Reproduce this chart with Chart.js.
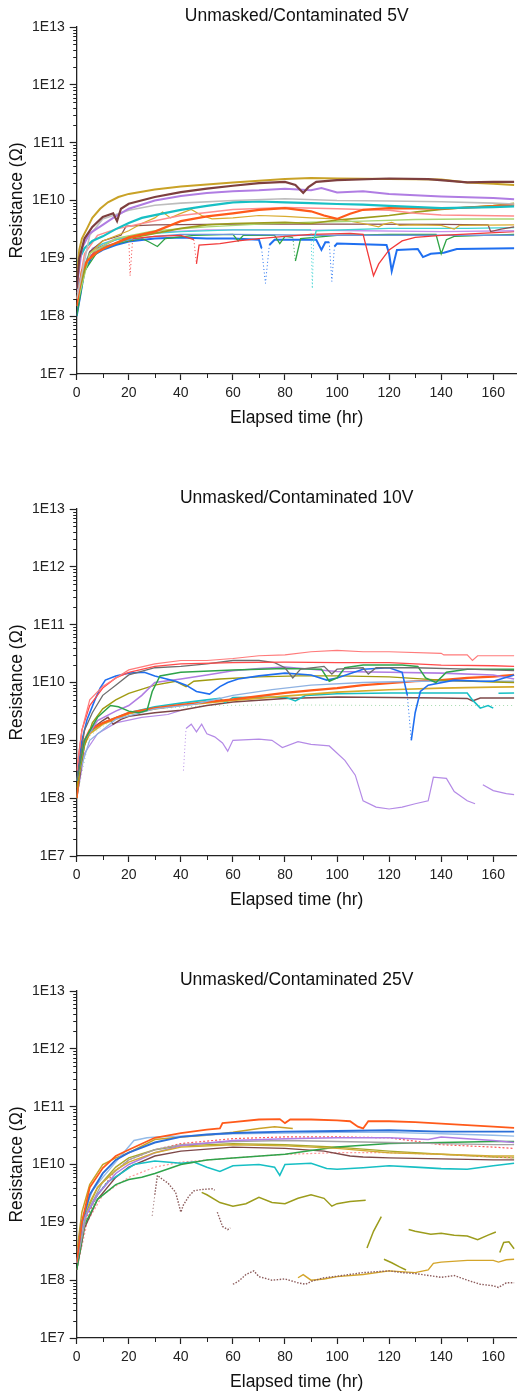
<!DOCTYPE html>
<html>
<head>
<meta charset="utf-8">
<script src="https://cdn.jsdelivr.net/npm/chart.js@4"></script>
<style>
html,body{margin:0;padding:0;background:#fff;}
body{width:518px;height:1395px;position:relative;overflow:hidden;}
.box{position:absolute;left:0;width:518px;height:432px;}
canvas{display:block;}
</style>
</head>
<body>
<div class="box" style="top:-1px"><canvas id="c1" width="518" height="432"></canvas></div>
<div class="box" style="top:481px"><canvas id="c2" width="518" height="432"></canvas></div>
<div class="box" style="top:963px"><canvas id="c3" width="518" height="432"></canvas></div>
<script>
// ---------- labels / ticks ----------
const titles = ['Unmasked/Contaminated 5V', 'Unmasked/Contaminated 10V', 'Unmasked/Contaminated 25V'];
const xLabel = 'Elapsed time (hr)';
const yLabel = 'Resistance (\u03A9)';
const xTicks = [0, 20, 40, 60, 80, 100, 120, 140, 160];
const xMinor = [10, 30, 50, 70, 90, 110, 130, 150];
const yDecades = [7, 8, 9, 10, 11, 12, 13];

// ---------- 5V series : [hours, ohms] ----------
const v5_gold = [[0,5e8],[1,1.4e9],[2,2.2e9],[4,3.3e9],[6,5e9],[9,7.2e9],[12,9.3e9],[16,1.15e10],[20,1.3e10],[30,1.55e10],[40,1.75e10],[50,1.9e10],[60,2.05e10],[70,2.2e10],[80,2.35e10],[90,2.45e10],[100,2.4e10],[120,2.35e10],[140,2.3e10],[150,2.05e10],[160,1.95e10],[168,1.85e10]];
const v5_brown = [[0,3e8],[1,1e9],[3,2.2e9],[6,3.5e9],[10,5.2e9],[14,6e9],[15.5,4.4e9],[17,7.2e9],[20,8.8e9],[30,1.15e10],[40,1.4e10],[50,1.6e10],[60,1.8e10],[70,2e10],[80,2.1e10],[84,1.85e10],[87,1.35e10],[89,1.7e10],[92,2.1e10],[100,2.25e10],[120,2.4e10],[135,2.35e10],[150,2.05e10],[160,2.1e10],[168,2.1e10]];
const v5_purple = [[0,3e8],[2,1.5e9],[5,2.7e9],[10,3.8e9],[14,5e9],[20,7.2e9],[30,1e10],[40,1.2e10],[50,1.35e10],[60,1.45e10],[70,1.5e10],[80,1.6e10],[90,1.5e10],[94,1.65e10],[100,1.38e10],[110,1.45e10],[120,1.3e10],[140,1.17e10],[160,1.1e10],[168,1.05e10]];
const v5_gray = [[0,2e8],[5,2.5e9],[10,4.8e9],[20,6.8e9],[30,8.3e9],[40,9e9],[60,1e10],[80,1.07e10],[100,1e10],[120,9.8e9],[140,9.5e9],[160,9e9],[168,8.7e9]];
const v5_cyan = [[0,8e8],[3,1.5e9],[6,2e9],[10,2.4e9],[15,3.2e9],[20,4.1e9],[25,5e9],[30,5.6e9],[40,6.9e9],[50,8.1e9],[60,9.3e9],[70,9.6e9],[80,9.3e9],[90,9e9],[100,8.7e9],[110,8.5e9],[120,8.1e9],[140,7.4e9],[160,7.7e9],[168,7.9e9]];
const v5_orange = [[0,1.5e8],[2,6e8],[4,9e8],[8,1.3e9],[12,1.6e9],[20,2.3e9],[30,2.9e9],[40,4.4e9],[50,5.3e9],[60,6e9],[70,6.9e9],[80,7.4e9],[90,6.5e9],[95,5.5e9],[100,4.8e9],[105,5.9e9],[110,6.9e9],[120,7.4e9],[140,7.2e9],[160,7.9e9],[168,8.5e9]];
const v5_salmon = [[0,2e8],[3,1.2e9],[8,2.5e9],[15,3.2e9],[25,4e9],[40,5.5e9],[60,7e9],[80,7.6e9],[100,7.2e9],[120,6.8e9],[130,6e9],[140,5.6e9],[168,5.4e9]];
const v5_olive = [[0,2e8],[4,9e8],[10,1.5e9],[20,2.2e9],[30,2.7e9],[40,3.3e9],[50,3.8e9],[60,4e9],[80,4.2e9],[90,4e9],[100,4.6e9],[110,5e9],[120,5.5e9],[130,6.3e9],[140,7e9],[150,7.6e9],[160,8.2e9],[168,8.9e9]];
const v5_lgreen = [[0,1.5e8],[5,1.2e9],[15,2.2e9],[30,3e9],[50,3.5e9],[70,3.9e9],[90,4.2e9],[110,4.4e9],[130,4.7e9],[150,4.8e9],[168,4.8e9]];
const v5_goldThin = [[0,2e8],[5,1.2e9],[10,2e9],[20,3e9],[25,4e9],[30,5e9],[33,6.3e9],[36,5e9],[40,6e9],[44,7e9],[48,5.5e9],[52,4.8e9],[60,5e9],[70,5.5e9],[80,5.3e9],[90,5e9],[100,4.8e9],[110,4e9],[116,3.5e9],[118,3.9e9],[121,4.2e9],[124,3.7e9],[130,3.8e9],[140,3.7e9],[145,3.2e9],[147,3.7e9],[168,3.8e9]];
const v5_brownThin = [[0,2e8],[5,1.3e9],[10,2e9],[17,2.5e9],[19,3.6e9],[30,3.8e9],[60,3.9e9],[100,3.9e9],[140,3.85e9],[158,3.8e9],[159,2.9e9],[163,3.2e9],[168,3.5e9]];
const v5_cyanLight = [[0,3e8],[5,1.3e9],[10,1.8e9],[20,2.4e9],[30,2.7e9],[40,2.9e9],[60,3.1e9],[90,3.1e9],[90.5,3e8],[91,2e9],[92,3e9],[120,3.3e9],[150,3.3e9],[168,3.4e9]];
const v5_violet = [[0,2.5e8],[6,1.5e9],[15,2.2e9],[30,2.8e9],[50,3.1e9],[80,3.1e9],[110,3e9],[140,2.9e9],[168,3e9]];
const v5_red = [[0,2e8],[3,8e8],[8,1.5e9],[15,2.1e9],[20,2.3e9],[20.5,5e8],[21.5,2.2e9],[30,2.4e9],[40,2.5e9],[45,2.1e9],[46,8e8],[47,1.7e9],[55,1.8e9],[62,2e9],[70,2.2e9],[80,2.4e9],[90,2.6e9],[105,2.7e9],[110,2.6e9],[114,5e8],[116,8e8],[120,1.4e9],[125,2e9],[130,2.3e9],[140,2.5e9],[155,2.7e9],[168,2.9e9]];
const v5_steel = [[0,2e8],[4,1e9],[10,1.6e9],[20,2.1e9],[30,2.4e9],[40,2.6e9],[60,2.6e9],[90,2.5e9],[120,2.5e9],[150,2.5e9],[168,2.5e9]];
const v5_green = [[0,1e8],[3,6e8],[8,1.3e9],[15,1.8e9],[25,2.2e9],[28,1.9e9],[31,1.6e9],[34,2.2e9],[45,2.5e9],[60,2.6e9],[62,2e9],[64,2.5e9],[76,2.5e9],[78,1.8e9],[80,2.4e9],[83,2.3e9],[84,9e8],[86,2.2e9],[100,2.5e9],[120,2.6e9],[138,2.6e9],[140,1.2e9],[142,2.1e9],[145,2.4e9],[168,2.6e9]];
const v5_blue = [[0,1e8],[3,6e8],[6,1.1e9],[10,1.4e9],[15,1.7e9],[20,1.95e9],[30,2.2e9],[40,2.3e9],[50,2.2e9],[60,2.2e9],[70,2.1e9],[71,1.5e9],[72.5,3.7e8],[74,1.7e9],[76,2.1e9],[92,2.1e9],[94,1.4e9],[95.5,1.9e9],[97,1.9e9],[98,4e8],[99,1.6e9],[100,1.8e9],[119,1.7e9],[120,1.2e9],[121,6e8],[123,1.4e9],[131,1.45e9],[133,1.05e9],[136,1.2e9],[141,1.25e9],[146,1.45e9],[168,1.5e9]];

// ---------- 10V series ----------
const v10_redTop = [[0,3e8],[2,1.5e9],[5,5e9],[10,8.5e9],[20,1.65e10],[30,2.1e10],[40,2.4e10],[50,2.4e10],[60,2.6e10],[70,2.9e10],[80,3e10],[90,3.4e10],[100,3.6e10],[110,3.4e10],[120,3.4e10],[140,3.2e10],[141,3e10],[150,3e10],[152,2.4e10],[154,2.9e10],[168,2.9e10]];
const v10_red = [[0,3e8],[2,1.5e9],[5,4e9],[10,8e9],[15,1.2e10],[20,1.5e10],[30,1.9e10],[40,2.1e10],[60,2.2e10],[80,2.25e10],[100,2.2e10],[120,2.2e10],[140,2e10],[160,1.95e10],[168,1.9e10]];
const v10_gray = [[0,2e8],[3,1.5e9],[6,3e9],[10,6e9],[15,9e9],[20,1.35e10],[30,1.8e10],[40,1.9e10],[50,2.1e10],[60,2.4e10],[70,2.4e10],[76,2.2e10],[80,1.8e10],[83,1.2e10],[86,1.7e10],[95,1.9e10],[98,1.4e10],[100,1.7e10],[110,1.8e10],[112,1.4e10],[115,1.8e10],[130,1.8e10],[150,1.7e10],[168,1.6e10]];
const v10_green = [[0,2e8],[3,1e9],[8,2.5e9],[13,4e9],[16,3.8e9],[20,3.2e9],[24,3e9],[27,3.3e9],[29,7e9],[32,1.3e10],[40,1.5e10],[60,1.65e10],[80,1.75e10],[94,1.7e10],[97,1.05e10],[100,1.2e10],[103,1.8e10],[110,2e10],[125,2e10],[131,1.9e10],[134,1.2e10],[138,1e10],[142,1.5e10],[150,1.7e10],[168,1.7e10]];
const v10_blue = [[0,2e8],[2,1e9],[4,2.3e9],[7,5e9],[9,8e9],[11,1.1e10],[15,1.3e10],[20,1.45e10],[26,1.5e10],[30,1.3e10],[38,1.05e10],[42,9e9],[46,7e9],[51,6.3e9],[55,8.5e9],[58,1e10],[62,1.15e10],[70,1.3e10],[80,1.45e10],[90,1.35e10],[96,1.1e10],[100,1.2e10],[110,1.7e10],[120,1.8e10],[125,1.5e10],[127,6e9],[128.5,1e9],[130,3e9],[132,7e9],[135,9e9],[145,1.1e10],[155,1.05e10],[160,1.05e10],[168,1.35e10]];
const v10_purple = [[0,2e8],[3,1e9],[8,2.2e9],[15,3.2e9],[20,4e9],[25,6e9],[30,1e10],[40,1.15e10],[50,1.35e10],[60,1.6e10],[70,1.75e10],[80,1.85e10],[90,1.7e10],[100,1.55e10],[120,1.5e10],[140,1.45e10],[160,1.35e10],[168,1.15e10]];
const v10_olive = [[0,1.5e8],[3,8e8],[6,2e9],[10,3.5e9],[15,5e9],[20,6.5e9],[30,9e9],[38,1.05e10],[42,8.5e9],[45,1.05e10],[55,1.15e10],[70,1.25e10],[85,1.3e10],[100,1.3e10],[120,1.25e10],[140,1.1e10],[160,1.02e10],[168,1e10]];
const v10_steel = [[0,2e8],[5,1e9],[15,2.3e9],[30,3.5e9],[45,4.2e9],[60,6e9],[75,7.5e9],[90,9e9],[110,1e10],[130,1.05e10],[150,1.05e10],[168,1.05e10]];
const v10_orange = [[0,1e8],[1,4e8],[2,8e8],[5,1.5e9],[10,2e9],[20,3e9],[30,3.6e9],[40,4.1e9],[50,4.6e9],[60,5.1e9],[70,5.8e9],[80,6.6e9],[90,7.3e9],[100,8e9],[110,9e9],[120,9.7e9],[130,1.05e10],[140,1.1e10],[150,1.2e10],[160,1.26e10],[168,1.35e10]];
const v10_gold = [[0,1e8],[2,7e8],[5,1.3e9],[10,1.9e9],[20,2.9e9],[30,3.5e9],[40,4e9],[60,4.9e9],[80,5.8e9],[100,6.8e9],[120,7.5e9],[140,8e9],[160,8.3e9],[168,8.4e9]];
const v10_cyan = [[0,1e8],[2,8e8],[5,1.4e9],[10,2e9],[20,3e9],[30,3.8e9],[40,4.4e9],[50,5e9],[55,5.3e9],[57,4.5e9],[60,5.5e9],[80,5.6e9],[84,4.8e9],[88,6e9],[100,6.4e9],[120,6.6e9],[150,6.6e9],[152,5e9],[155,3.6e9],[158,4e9],[160,3.6e9],[161,null],[162,6.5e9],[168,6.6e9]];
const v10_brown = [[0,1e8],[3,9e8],[6,1.6e9],[10,2.2e9],[12,2.5e9],[14,1.9e9],[17,2.3e9],[20,2.6e9],[30,3e9],[40,3.3e9],[50,4e9],[60,4.6e9],[80,5.3e9],[100,5.6e9],[120,5.5e9],[140,5.4e9],[150,5.3e9],[152,4.8e9],[155,5.4e9],[168,5.4e9]];
const v10_purpleLow = [[0,1e8],[3,6e8],[8,1.3e9],[15,2e9],[25,2.5e9],[35,2.8e9],[40,3.3e9],[40.5,null],[41,3e8],[42,1.6e9],[44,1.9e9],[46,1.4e9],[48,1.9e9],[50,1.3e9],[53,1.15e9],[56,9e8],[58,6.5e8],[60,1e9],[70,1.05e9],[75,1e9],[79,7.5e8],[85,9.5e8],[90,8.5e8],[97,8e8],[103,4.5e8],[107,2.5e8],[110,9e7],[115,7e7],[120,6.5e7],[125,7e7],[130,8e7],[135,9e7],[137,2.3e8],[142,2.2e8],[145,1.3e8],[150,9e7],[153,8e7],[154.5,null],[156,1.7e8],[160,1.35e8],[165,1.2e8],[168,1.15e8]];
const v10_lgreen = [[0,1e8],[5,1.2e9],[15,2.5e9],[30,3.5e9],[50,4e9],[80,4.1e9],[120,4e9],[168,4e9]];

// ---------- 25V series ----------
const v25_orange = [[0,2e8],[2,1e9],[5,4e9],[10,8.7e9],[15,1.4e10],[20,1.8e10],[30,2.9e10],[40,3.5e10],[50,4e10],[55,4.2e10],[56,5.2e10],[60,5.4e10],[70,6e10],[78,6.1e10],[80,5.2e10],[82,6e10],[90,6e10],[100,5.8e10],[105,5.6e10],[108,4.5e10],[110,4.2e10],[112,5.6e10],[120,5.6e10],[130,5.4e10],[140,5.1e10],[150,4.8e10],[160,4.5e10],[168,4.3e10]];
const v25_blue = [[0,2e8],[2,1e9],[5,3e9],[10,7e9],[15,1.2e10],[20,1.6e10],[30,2.4e10],[40,3e10],[50,3.3e10],[60,3.5e10],[80,3.7e10],[100,3.8e10],[120,3.9e10],[140,3.7e10],[160,3.7e10],[168,3.7e10]];
const v25_lblue = [[0,2e8],[3,1.5e9],[6,3.5e9],[10,6e9],[15,1.1e10],[18,1.6e10],[22,2.6e10],[27,2.9e10],[31,3e10],[40,3.1e10],[60,3.4e10],[80,3.5e10],[100,3.6e10],[120,3.6e10],[140,3.4e10],[160,3.2e10],[168,3.1e10]];
const v25_gold = [[0,3e8],[2,1.5e9],[5,4.5e9],[10,1e10],[15,1.3e10],[20,1.6e10],[30,2.7e10],[40,3e10],[50,3.2e10],[60,3.6e10],[70,4.2e10],[76,4.5e10],[83,4.2e10]];
const v25_gold2 = [[0,2e8],[3,1.5e9],[8,4e9],[15,8e9],[20,1.1e10],[30,1.6e10],[40,2e10],[60,2.2e10],[80,2.1e10],[100,1.9e10],[120,1.6e10],[140,1.5e10],[160,1.4e10],[168,1.4e10]];
const v25_purple = [[0,2e8],[3,1.2e9],[8,3e9],[15,7e9],[20,1e10],[30,1.6e10],[40,2.1e10],[60,2.6e10],[80,2.8e10],[100,2.9e10],[120,2.9e10],[135,2.7e10],[140,3e10],[150,2.8e10],[160,2.6e10],[168,2.4e10]];
const v25_gray = [[0,2e8],[4,1.5e9],[10,5e9],[20,1.2e10],[30,1.8e10],[40,2.2e10],[60,2.5e10],[80,2.6e10],[100,2.5e10],[120,2.4e10],[140,2.3e10],[160,2.2e10],[168,2.2e10]];
const v25_green = [[0,1.5e8],[3,9e8],[8,2.5e9],[15,4.5e9],[20,5.5e9],[25,6e9],[30,7e9],[40,1e10],[50,1.2e10],[60,1.3e10],[80,1.5e10],[90,1.75e10],[100,2e10],[120,2.3e10],[140,2.4e10],[160,2.5e10],[168,2.5e10]];
const v25_cyan = [[0,2e8],[3,1.2e9],[8,3e9],[12,5e9],[17,7e9],[22,1e10],[30,1.15e10],[40,1.05e10],[45,1.1e10],[50,9e9],[55,7.6e9],[60,9.5e9],[70,1e10],[76,9e9],[78,6.5e9],[80,1e10],[90,1.05e10],[96,8.5e9],[100,8.3e9],[110,8.8e9],[120,9.5e9],[130,9e9],[140,8.5e9],[150,8.3e9],[160,9.5e9],[168,1.05e10]];
const v25_brown = [[0,1.5e8],[3,8e8],[8,2.5e9],[15,6e9],[20,9e9],[30,1.4e10],[40,1.7e10],[60,2e10],[80,1.9e10],[95,1.7e10],[105,1.4e10],[110,1.35e10],[120,1.3e10],[140,1.25e10],[160,1.2e10],[168,1.2e10]];
const v25_red = [[0,2e8],[3,1e9],[8,3e9],[15,8e9],[20,1.2e10],[30,1.8e10],[40,2.3e10],[60,2.8e10],[80,3e10],[100,3e10],[120,2.9e10],[140,2.2e10],[160,2e10],[168,1.9e10]];
const v25_salmon = [[0,1.5e8],[4,1e9],[10,3e9],[20,6e9],[30,9e9],[40,1.1e10],[60,1.3e10],[80,1.5e10],[100,1.6e10],[120,1.6e10],[140,1.5e10],[168,1.3e10]];
const v25_oliveUp = [[0,2e8],[3,1.3e9],[8,4e9],[15,9e9],[20,1.3e10],[30,1.8e10],[40,2.1e10],[60,2.3e10],[80,2.2e10],[100,2e10],[120,1.7e10],[140,1.5e10],[160,1.35e10],[168,1.3e10]];
const v25_oliveLow = [[48,3.3e9],[50,3e9],[55,2.2e9],[60,1.9e9],[65,2.1e9],[70,2.7e9],[75,2.2e9],[80,2.1e9],[85,2.6e9],[90,3e9],[95,2.6e9],[98,1.9e9],[100,2.1e9],[105,2.3e9],[111,2.4e9],[111.3,null],[111.5,3.6e8],[114,7e8],[117,1.25e9],[117.3,null],[118,2.3e8],[121,2e8],[124,1.7e8],[126.5,1.5e8],[127,null],[127.5,7.5e8],[130,7e8],[136,6.2e8],[140,6.5e8],[145,6e8],[150,5.8e8],[154,5e8],[158,6e8],[161,6.8e8],[161.5,null],[162.5,3e8],[164,4.5e8],[166,4.6e8],[168,3.5e8]];
const v25_brownLow = [[29,1.3e9],[30,3e9],[31,6.5e9],[33,5.5e9],[35,4.8e9],[38,3.3e9],[40,1.5e9],[41,2e9],[43,2.8e9],[45,3.5e9],[48,3.7e9],[52,3.8e9],[53,3.6e9],[53.5,null],[54,1.5e9],[56,8.5e8],[58,7.5e8],[59,8e8],[59.5,null],[60,8.5e7],[62,9.5e7],[65,1.25e8],[68,1.45e8],[70,1.15e8],[75,1e8],[80,1.05e8],[85,9e7],[88,8.5e7],[90,9.5e7],[95,1.1e8],[100,1.17e8],[110,1.35e8],[120,1.45e8],[125,1.35e8],[130,1.3e8],[140,1.12e8],[145,1.2e8],[150,1e8],[155,8.5e7],[160,8e7],[162,7.5e7],[165,9e7],[168,9e7]];
const v25_goldLow = [[85,1.1e8],[87,1.25e8],[90,1e8],[95,1.05e8],[100,1.15e8],[110,1.25e8],[120,1.45e8],[130,1.35e8],[135,1.5e8],[137,1.95e8],[140,2.05e8],[150,2.2e8],[160,2.2e8],[162,2.05e8],[165,2.25e8],[168,2.3e8]];

// ---------- styling per series: [data, color, width, dash] ----------
const set5 = [
  [v5_brown,'#7d3f3f',2.2],[v5_gold,'#c9a227',2.0],[v5_purple,'#b07de3',2.0],[v5_gray,'#bdbdbd',1.6],
  [v5_cyan,'#17bfc4',2.2],[v5_orange,'#ff5a1a',2.2],[v5_salmon,'#ff8c8c',1.5],[v5_olive,'#9c9c1c',1.7],
  [v5_lgreen,'#a9d673',1.4],[v5_goldThin,'#d8ab2e',1.2],[v5_brownThin,'#8a5252',1.3],[v5_cyanLight,'#3fd2d2',1.4],
  [v5_violet,'#c692ee',1.3],[v5_red,'#f23a3a',1.3],[v5_steel,'#6c95dc',1.4],[v5_green,'#2fa345',1.3],[v5_blue,'#1f6ff0',2.0]
];
const set10 = [
  [v10_redTop,'#ff7b7b',1.2],[v10_red,'#ff4a4a',1.3],[v10_gray,'#6e6e6e',1.3],[v10_green,'#2fa34a',1.5],
  [v10_blue,'#1f6ff0',1.6],[v10_purple,'#b07de3',1.6],[v10_olive,'#a09a10',1.4],[v10_steel,'#8fb2e2',1.3],
  [v10_orange,'#ff5a1a',2.2],[v10_gold,'#d6aa2a',1.7],[v10_cyan,'#17bfc4',1.6],[v10_brown,'#7d4848',1.5],
  [v10_purpleLow,'#b48ae6',1.2],[v10_lgreen,'#a6dcae',1.0,[1,3]]
];
const set25 = [
  [v25_orange,'#ff5a1a',1.8],[v25_blue,'#2b6fd8',1.9],[v25_lblue,'#94bbe8',1.4],[v25_gold,'#c9a227',1.5],
  [v25_gold2,'#d1ab33',1.4],[v25_purple,'#b07de3',1.5],[v25_gray,'#a3a3a3',1.3],[v25_green,'#2fa34a',1.5],
  [v25_cyan,'#17bfc4',1.6],[v25_brown,'#7d4848',1.4],[v25_red,'#ff5a5a',1.2,[2,2]],[v25_salmon,'#ff9a9a',1.2,[2,2]],
  [v25_oliveUp,'#a8a82a',1.4],[v25_oliveLow,'#9c9c1c',1.5],[v25_brownLow,'#8c5c5c',1.4,[1.5,1.5]],[v25_goldLow,'#d4a52a',1.4]
];

const FONT = "Arial, 'Liberation Sans', sans-serif";
const AX = '#222';

const minorTicks = {
  id: 'minorTicks',
  afterDraw(chart) {
    const {ctx} = chart, xs = chart.scales.x, ys = chart.scales.y;
    ctx.save();
    ctx.strokeStyle = AX; ctx.lineWidth = 1;
    for (let d = 7; d < 13; d++) {
      for (let k = 2; k < 10; k++) {
        const py = Math.round(ys.getPixelForValue(k * Math.pow(10, d))) + 0.5;
        ctx.beginPath(); ctx.moveTo(xs.left - 3.5, py); ctx.lineTo(xs.left, py); ctx.stroke();
      }
    }
    xMinor.forEach(v => {
      const px = Math.round(xs.getPixelForValue(v)) + 0.5;
      ctx.beginPath(); ctx.moveTo(px, ys.bottom); ctx.lineTo(px, ys.bottom + 4); ctx.stroke();
    });
    ctx.restore();
  }
};

// steep jumps (momentary drop-outs) are drawn dotted, like scattered points
function steep(c) {
  const dy = Math.abs(Math.log10(c.p1.parsed.y) - Math.log10(c.p0.parsed.y));
  const dx = Math.abs(c.p1.parsed.x - c.p0.parsed.x);
  return dx > 0 && dy / dx > 0.35 && c.p0.parsed.x > 4;
}

function makeChart(id, title, set) {
  const datasets = set.map(([pts, color, w, dash]) => ({
    data: pts.map(([t, r]) => ({x: t, y: r})),
    borderColor: color,
    borderWidth: w,
    borderDash: dash || [],
    segment: {
      borderDash: c => steep(c) ? [1, 2.5] : undefined,
      borderWidth: c => steep(c) ? 1 : undefined
    },
    pointRadius: 0,
    tension: 0,
    spanGaps: false,
    fill: false
  }));
  return new Chart(document.getElementById(id), {
    type: 'line',
    data: {datasets},
    plugins: [minorTicks],
    options: {
      responsive: false,
      animation: false,
      events: [],
      devicePixelRatio: 1,
      layout: {padding: {left: 0, right: 1.3, top: 0, bottom: 0}},
      plugins: {
        legend: {display: false},
        tooltip: {enabled: false},
        title: {display: true, text: title, fullSize: false, color: '#111',
                font: {family: FONT, size: 17.5, weight: 'normal'}, padding: {top: 7, bottom: 0}}
      },
      scales: {
        x: {
          type: 'linear', min: 0, max: 169,
          afterBuildTicks: s => { s.ticks = xTicks.map(v => ({value: v})); },
          afterFit: s => { s.height = 57; },
          ticks: {font: {family: FONT, size: 14}, color: AX, padding: 4.5, includeBounds: false, maxRotation: 0, autoSkip: false},
          grid: {drawOnChartArea: false, drawTicks: true, tickLength: 6, tickColor: AX, tickWidth: 1.2},
          border: {display: true, color: AX, width: 1.3},
          title: {display: true, text: xLabel, color: '#111', font: {family: FONT, size: 17.5}, padding: {top: 0, bottom: 2}}
        },
        y: {
          type: 'logarithmic', min: 1e7, max: 1e13,
          afterBuildTicks: s => { s.ticks = yDecades.map(e => ({value: Math.pow(10, e)})); },
          afterFit: s => { s.width = 76.7; },
          ticks: {font: {family: FONT, size: 14}, color: AX, padding: 5, autoSkip: false,
                  callback: v => '1E' + Math.round(Math.log10(v))},
          grid: {drawOnChartArea: false, drawTicks: true, tickLength: 7, tickColor: AX, tickWidth: 1.2},
          border: {display: true, color: AX, width: 1.3},
          title: {display: true, text: yLabel, color: '#111', font: {family: FONT, size: 17.5}, padding: {top: 7, bottom: 0}}
        }
      }
    }
  });
}

makeChart('c1', titles[0], set5);
makeChart('c2', titles[1], set10);
makeChart('c3', titles[2], set25);
</script>
</body>
</html>
